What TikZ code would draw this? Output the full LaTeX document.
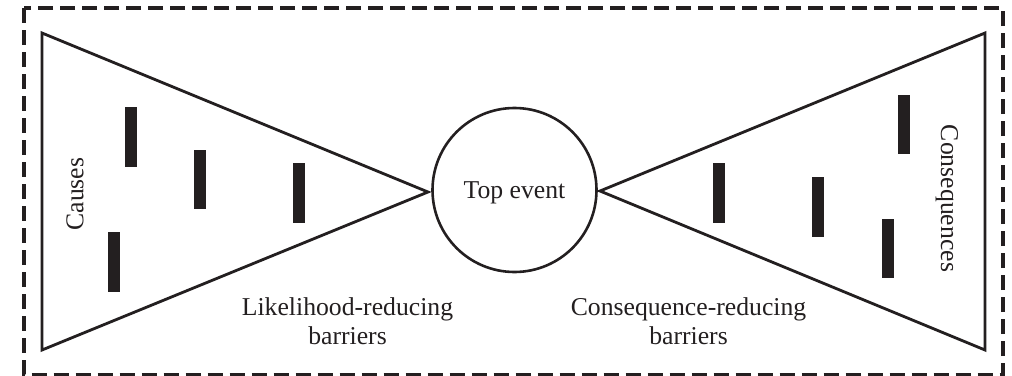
\documentclass[tikz,border=0pt]{standalone}
\usepackage{fontspec}
\setmainfont{Liberation Serif}
\definecolor{ink}{HTML}{231F20}
\begin{document}
\begin{tikzpicture}[x=1pt,y=-1pt,
  outline/.style={draw=ink,line width=2.8pt,line join=miter},
  frame/.style={draw=ink,line width=3.2pt,dash pattern=on 15pt off 7pt},
  bar/.style={fill=ink,draw=none,minimum width=12pt,inner sep=0pt,outer sep=0pt,rectangle},
  lbl/.style={text=ink,font=\fontsize{25.7pt}{29pt}\selectfont,inner sep=0pt,align=center}]
\useasboundingbox (0,0) rectangle (1012,375);
\draw[frame] (24,8) rectangle (1003,374.5);
% left triangle
\coordinate (lt) at (42,33);
\coordinate (lb) at (42,350);
\coordinate (la) at (428,192);
\draw[outline] (lt) -- (la) -- (lb) -- cycle;
% right triangle
\coordinate (rt) at (985,33);
\coordinate (rb) at (985,350);
\coordinate (ra) at (600,191);
\draw[outline] (rt) -- (ra) -- (rb) -- cycle;
% top event
\node[circle,draw=ink,line width=2.6pt,minimum size=164pt,inner sep=0pt] (top) at (514.5,190) {};
\node[lbl,yshift=-3pt] (toptext) at (top.center) {Top event};
% bars left
\node[bar,minimum height=60pt] (b1) at (131,137) {};
\node[bar,minimum height=59pt] (b2) at (200,179.5) {};
\node[bar,minimum height=60pt] (b3) at (299,193) {};
\node[bar,minimum height=60pt] (b4) at (114,262) {};
% bars right
\node[bar,minimum height=59pt] (b5) at (904,124.5) {};
\node[bar,minimum height=60pt] (b6) at (719,193) {};
\node[bar,minimum height=60pt] (b7) at (818,207) {};
\node[bar,minimum height=59pt] (b8) at (887.5,248.5) {};
% labels
\node[lbl,rotate=90] (causes) at (75,194) {Causes};
\node[lbl,rotate=-90] (cons) at (947,198.5) {Consequences};
\node[lbl] (lrb) at (347.5,321) {Likelihood-reducing\\barriers};
\node[lbl] (crb) at (688.5,321) {Consequence-reducing\\barriers};
\end{tikzpicture}
\end{document}
